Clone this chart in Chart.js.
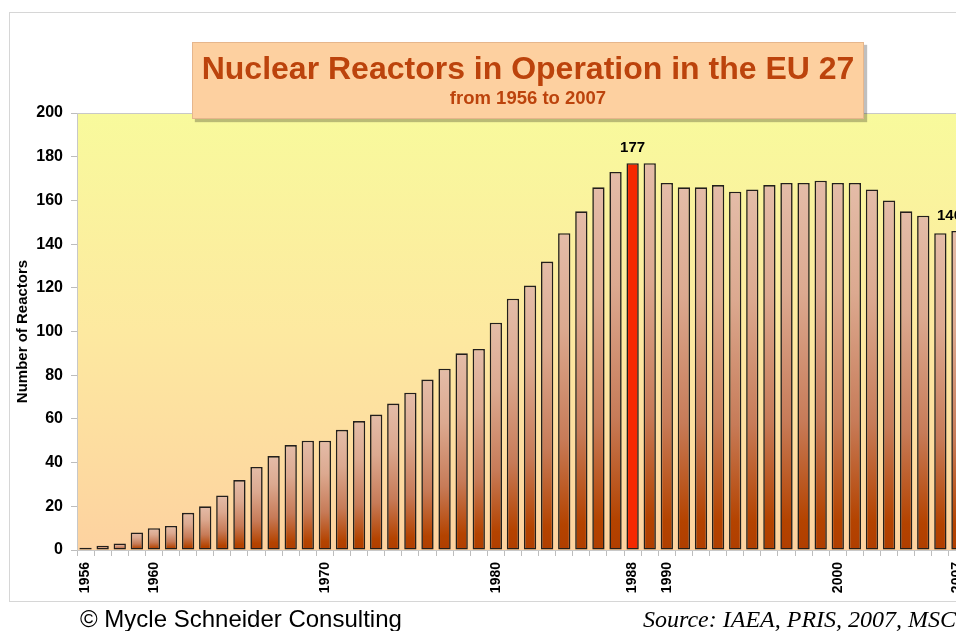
<!DOCTYPE html>
<html>
<head>
<meta charset="utf-8">
<script src="https://cdn.jsdelivr.net/npm/chart.js@4.4.1/dist/chart.umd.min.js"></script>
<style>
  html, body { margin: 0; padding: 0; background: #fff; overflow: hidden; width: 956px; height: 631px; }
  #wrap { position: relative; width: 1000px; height: 631px; }
  #wrap canvas { position: absolute; left: 0; top: 0; }
  .titlebox {
    position: absolute; left: 192px; top: 42px; width: 670px; height: 75px;
    background: #FDD0A0; border: 1px solid #E6B68C;
    box-shadow: 3px 3px 1px rgba(0, 0, 0, 0.25);
  }
  .t1, .t2 {
    position: absolute; left: 192px; width: 672px; text-align: center;
    font-family: "Liberation Sans", Arial, sans-serif; font-weight: bold;
    color: #BC430C; line-height: 1; white-space: nowrap;
  }
  .t1 { top: 52px; font-size: 32px; }
  .t2 { top: 89px; font-size: 18.5px; }
  .foot { position: absolute; top: 607px; line-height: 1; white-space: nowrap; font-size: 24px; color: #000; }
  .copy { left: 80px; font-family: "Liberation Sans", Arial, sans-serif; }
  .src { left: 643px; font-family: "Liberation Serif", "Times New Roman", serif; font-style: italic; }
</style>
</head>
<body>
<div id="wrap">
  <canvas id="chart"></canvas>
  <div class="titlebox"></div>
  <div class="t1">Nuclear Reactors in Operation in the EU 27</div>
  <div class="t2">from 1956 to 2007</div>
  <div class="foot copy">© Mycle Schneider Consulting</div>
  <div class="foot src">Source: IAEA, PRIS, 2007, MSC</div>
</div>
<script>
const years = [
  1956, 1957, 1958, 1959, 1960, 1961, 1962, 1963, 1964, 1965,
  1966, 1967, 1968, 1969, 1970, 1971, 1972, 1973, 1974, 1975,
  1976, 1977, 1978, 1979, 1980, 1981, 1982, 1983, 1984, 1985,
  1986, 1987, 1988, 1989, 1990, 1991, 1992, 1993, 1994, 1995,
  1996, 1997, 1998, 1999, 2000, 2001, 2002, 2003, 2004, 2005,
  2006, 2007
];
const reactors = [
  1, 2, 3, 8, 10, 11, 17, 20, 25, 32,
  38, 43, 48, 50, 50, 55, 59, 62, 67, 72,
  78, 83, 90, 92, 104, 115, 121, 132, 145, 155,
  166, 173, 177, 177, 168, 166, 166, 167, 164, 165,
  167, 168, 168, 169, 168, 168, 165, 160, 155, 153,
  145, 146
];
const shownYears = [1956, 1960, 1970, 1980, 1988, 1990, 2000, 2007];
const labelledYears = [1988, 2007];
const peakYear = 1988;

Chart.defaults.font.family = '"Liberation Sans", Arial, sans-serif';
Chart.defaults.color = '#000';

// each bar gets its own light-to-dark gradient, peak year is plain red
function barFill(c) {
  if (years[c.dataIndex] === peakYear) return '#F52800';
  const chart = c.chart;
  if (!chart.chartArea || !c.parsed) return '#D09070';
  const y = chart.scales.y;
  const top = y.getPixelForValue(c.parsed.y);
  const base = y.getPixelForValue(0);
  if (!(base > top)) return '#D09070';
  const g = chart.ctx.createLinearGradient(0, top, 0, base);
  g.addColorStop(0, '#E4BCA8');
  g.addColorStop(0.3, '#DCA990');
  g.addColorStop(0.65, '#C77B58');
  g.addColorStop(0.92, '#B44300');
  g.addColorStop(1, '#B03E00');
  return g;
}

const plotBackground = {
  id: 'plotBackground',
  beforeDraw(chart) {
    const { ctx, chartArea: a, width } = chart;
    ctx.save();
    ctx.fillStyle = '#fff';
    ctx.fillRect(0, 0, width, chart.height);
    ctx.strokeStyle = '#d6d6d6';
    ctx.lineWidth = 1;
    ctx.strokeRect(9.5, 12.5, width, 589);
    const g = ctx.createLinearGradient(0, a.top, 0, a.bottom);
    g.addColorStop(0, '#F8FA9C');
    g.addColorStop(0.5, '#FDE9A0');
    g.addColorStop(1, '#FDD2A0');
    ctx.fillStyle = g;
    ctx.fillRect(a.left, a.top, a.right - a.left, a.bottom - a.top);
    ctx.strokeStyle = '#c8c8c8';
    ctx.strokeRect(a.left + 0.5, a.top + 0.5, a.right - a.left, a.bottom - a.top);
    ctx.restore();
  }
};

const valueLabels = {
  id: 'valueLabels',
  afterDatasetsDraw(chart) {
    const { ctx, chartArea } = chart;
    const meta = chart.getDatasetMeta(0);
    ctx.save();
    ctx.font = 'bold 15px "Liberation Sans", Arial, sans-serif';
    ctx.fillStyle = '#000';
    ctx.textAlign = 'center';
    ctx.textBaseline = 'alphabetic';
    labelledYears.forEach((yr) => {
      const i = years.indexOf(yr);
      const bar = meta.data[i];
      const text = String(reactors[i]);
      const w = ctx.measureText(text).width;
      // keep label inside the plot area
      const x = Math.min(bar.x, chartArea.right - w / 2 - 4);
      ctx.fillText(text, x, bar.y - 11);
    });
    ctx.restore();
  }
};

const chart = new Chart(document.getElementById('chart'), {
  type: 'bar',
  data: {
    labels: years,
    datasets: [{
      data: reactors,
      backgroundColor: barFill,
      borderColor: '#231f1c',
      borderWidth: 1.6,
      borderSkipped: false,
      categoryPercentage: 1,
      barPercentage: 0.72,
    }],
  },
  options: {
    responsive: true,
    maintainAspectRatio: false,
    animation: false,
    layout: {
      padding: { left: 10, top: 113, right: 34, bottom: 0 },
    },
    scales: {
      x: {
        afterFit: (scale) => { scale.height = 81; },
        grid: {
          display: true,
          drawOnChartArea: false,
          tickLength: 6,
          color: '#bdbdbd',
        },
        border: { color: '#c8c8c8' },
        ticks: {
          autoSkip: false,
          minRotation: 90,
          maxRotation: 90,
          padding: 6,
          font: { size: 14, weight: 'bold' },
          callback: (val, i) => (shownYears.includes(years[i]) ? String(years[i]) : ''),
        },
      },
      y: {
        min: 0,
        max: 200,
        afterFit: (scale) => { scale.width = 67; },
        grid: {
          display: true,
          drawOnChartArea: false,
          tickLength: 6,
          color: '#bdbdbd',
        },
        border: { color: '#c8c8c8' },
        ticks: {
          stepSize: 20,
          padding: 8,
          font: { size: 16, weight: 'bold' },
        },
        title: {
          display: true,
          text: 'Number of Reactors',
          font: { size: 15, weight: 'bold' },
          padding: { top: 4, bottom: 0 },
        },
      },
    },
    plugins: {
      legend: { display: false },
      tooltip: { enabled: false },
    },
  },
  plugins: [plotBackground, valueLabels],
});
</script>
</body>
</html>
